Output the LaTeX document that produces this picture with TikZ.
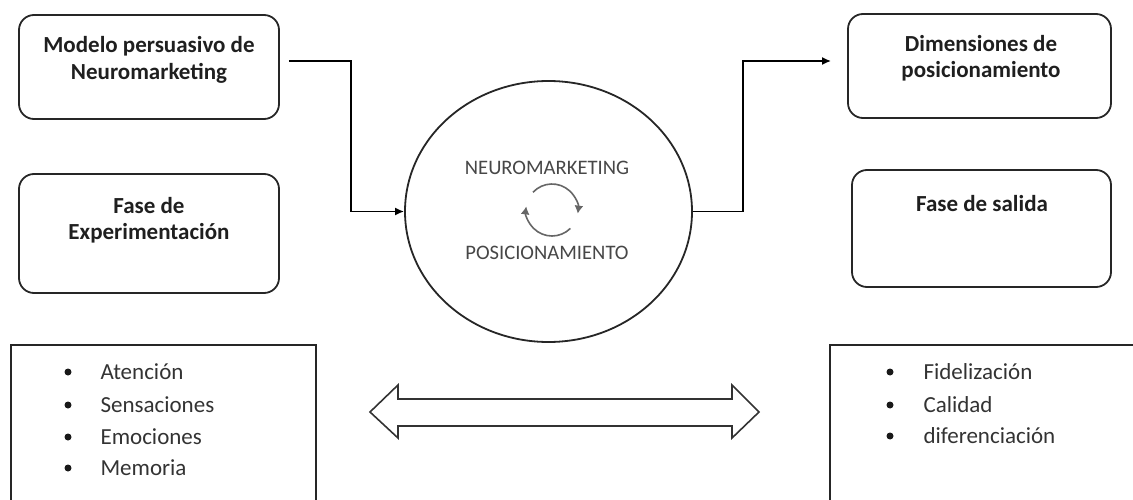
\documentclass[tikz,border=0pt]{standalone}
\usepackage{fontspec}
\setmainfont{Carlito}
\usetikzlibrary{arrows.meta,positioning,shapes.geometric,calc}

\begin{document}
\begin{tikzpicture}[x=1pt,y=-1pt]

        % Styles
        \tikzstyle{rbox}=[draw=black!85,line width=1.8pt,rounded corners=15pt,inner sep=0pt]
        \tikzstyle{title text}=[font=\bfseries\fontsize{23}{26.5}\selectfont,align=center,text=black!88]
        \tikzstyle{center text}=[font=\fontsize{20.6}{24}\selectfont,text=black!72]
        \tikzstyle{list text}=[font=\fontsize{23}{26}\selectfont,anchor=west,text=black!80]
        \tikzstyle{list line}=[draw=black!85,line width=1.6pt]
        \tikzstyle{connector}=[line width=1.7pt,-{Latex[length=9pt,width=8pt]}]
        \tikzstyle{cycle arrow}=[line width=1.6pt,black!60,-{Latex[length=8pt,width=9pt]}]
        \useasboundingbox (0,0) rectangle (1133,500);
        %The graphic
        %boxes
        \node[rbox,minimum width=260pt,minimum height=104pt] (modelo) at (149,67) {};
        \node[title text] (modelo text) at (149,60) {Modelo persuasivo de\\Neuromarketing};
        \node[rbox,minimum width=260pt,minimum height=119pt] (experim) at (149,233.5) {};
        \node[title text] (experim text) at (149,220) {Fase de\\Experimentación};
        \node[rbox,minimum width=263pt,minimum height=104pt] (dimens) at (979.5,66) {};
        \node[title text] (dimens text) at (981,58) {Dimensiones de\\posicionamiento};
        \node[rbox,minimum width=259pt,minimum height=117pt] (salida) at (981.5,228.5) {};
        \node[title text] (salida text) at (982,204) {Fase de salida};
        %center
        \node[draw=black!85,line width=1.8pt,ellipse,minimum width=287pt,minimum height=261pt] (neuro) at (548.5,211.5) {};
        \node[center text] (neuro top) at (547,168) {NEUROMARKETING};
        \node[center text] (neuro bottom) at (547,253) {POSICIONAMIENTO};
        \coordinate (cyc) at (552,210);
        \draw[cycle arrow] ($(cyc)+(-137:26)$) arc[start angle=-137,end angle=8,radius=26];
        \draw[cycle arrow] ($(cyc)+(45:26)$) arc[start angle=45,end angle=188,radius=26];
        %connectors
        \draw[connector] ([xshift=9pt,yshift=6pt]modelo.east) -| ([xshift=-53pt]neuro.west) -- (neuro.west);
        \draw[connector] (neuro.east) -- ([xshift=50pt]neuro.east) |- ([xshift=-16pt,yshift=5pt]dimens.west);
        %lists
        \draw[list line] (11,500) -- (11,345) -- (316,345) -- (316,500);
        \draw[list line] (830,500) -- (830,345) -- (1133,345);
        \foreach \y/\word in {372/Atención,405/Sensaciones,437/Emociones,468/Memoria}
            {
            \fill[black!90] (68,\y) circle (3.5pt);
            \node[list text] at (97,\y) {\word};
            }
        \foreach \y/\word in {372/Fidelización,405/Calidad,436/diferenciación}
            {
            \fill[black!90] (890,\y) circle (3.5pt);
            \node[list text] at (920,\y) {\word};
            }
        %double arrow
        \draw[line width=1.6pt,black!80] (370,412) -- (398,385) -- (398,399) -- (732,399) -- (732,385) -- (759,412)
            -- (732,438) -- (732,426) -- (398,426) -- (398,438) -- cycle;
\end{tikzpicture}
\end{document}
